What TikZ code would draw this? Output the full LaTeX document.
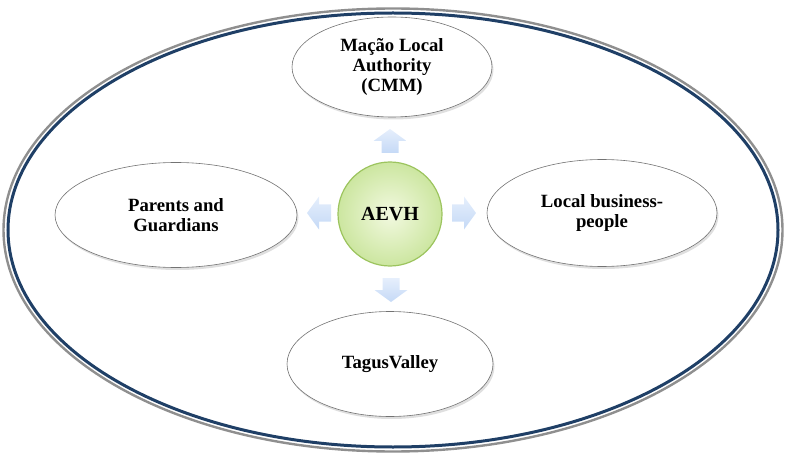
\documentclass[tikz,border=0pt]{standalone}
\usepackage{fontspec}
\setmainfont{Liberation Serif}
\usetikzlibrary{shapes.geometric,shadows}
\definecolor{ringblue}{HTML}{1F3F66}
\definecolor{ringgray}{HTML}{8F8F8F}
\definecolor{arrtop}{HTML}{E6EFFC}
\definecolor{arrbot}{HTML}{C5D9F6}
\definecolor{circin}{HTML}{F2F9E0}
\definecolor{circout}{HTML}{CCE6A0}
\definecolor{circline}{HTML}{9CC45E}
\tikzset{
  party/.style={ellipse, draw=black!55, line width=0.6pt, fill=white, inner sep=0pt,
    align=center, font=\bfseries\fontsize{18.7}{20}\selectfont,
    drop shadow={opacity=0.25, shadow xshift=1.5pt, shadow yshift=-2.5pt}},
  hub/.style={circle, draw=circline, line width=1.2pt, inner color=circin, outer color=circout,
    minimum size=104pt, inner sep=0pt, font=\bfseries\fontsize{20}{22}\selectfont},
  blockarrow/.pic={
    \shade[top color=arrtop, bottom color=arrbot]
      (12,0) -- (0,-16.5) -- (0,-8.5) -- (-12,-8.5) -- (-12,8.5) -- (0,8.5) -- (0,16.5) -- cycle;
  }
}
\begin{document}
\begin{tikzpicture}[x=1pt,y=-1pt]
\useasboundingbox (0,0) rectangle (800,473);
% outer ring
\draw[ringgray, line width=2.4pt] (393,230) ellipse [x radius=389.5, y radius=221.5];
\draw[ringblue, line width=3pt] (393,230) ellipse [x radius=385, y radius=217];
% parties
\node[party, minimum width=200pt, minimum height=100pt] (cmm) at (392,67) {Mação Local\\Authority\\(CMM)};
\node[party, minimum width=242pt, minimum height=105pt] (parents) at (176,215) {Parents and\\Guardians};
\node[party, minimum width=230pt, minimum height=107pt] (business) at (602,213) {Local business-\\people};
\node[party, minimum width=206pt, minimum height=105pt] (tagus) at (390,364) {TagusValley};
% hub
\node[hub] (aevh) at (390,214) {AEVH};
% block arrows
\pic[rotate=90] at (390,141) {blockarrow};
\pic[rotate=-90] at (391,290) {blockarrow};
\pic[rotate=180] at (319,213) {blockarrow};
\pic at (464,213) {blockarrow};
\end{tikzpicture}
\end{document}
